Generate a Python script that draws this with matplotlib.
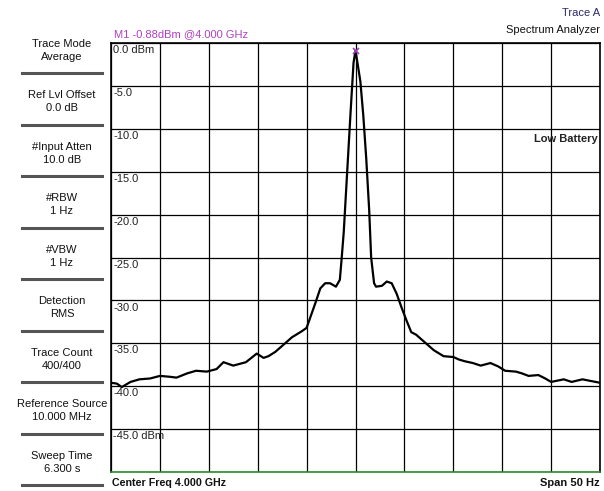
import matplotlib.pyplot as plt
from matplotlib.ticker import MultipleLocator

plt.rcParams['font.family'] = ['Liberation Sans', 'DejaVu Sans']

# trace: offset from 4.000 GHz (Hz) and level (dBm)
offset_hz = [-25.0, -24.4, -23.9, -23.0, -22.1, -21.0, -20.0, -19.0, -18.3, -17.2,
             -16.3, -15.2, -14.2, -13.5, -12.5, -11.2, -10.1, -9.4, -8.9, -8.2,
             -7.6, -6.5, -5.5, -5.0, -4.1, -3.6, -3.1, -2.6, -2.0, -1.6,
             -1.4, -1.2, -0.9, -0.5, -0.2, 0.0,
             0.2, 0.5, 0.8, 1.1, 1.4, 1.6, 1.9, 2.1, 2.7, 3.2, 3.7,
             4.2, 4.7, 5.2, 5.7, 6.2, 7.2, 8.0, 9.0, 10.0, 10.6, 11.2,
             12.0, 12.8, 13.8, 14.6, 15.3, 16.4, 17.0, 17.7, 18.7, 19.4, 20.0,
             21.3, 22.1, 23.2, 24.1, 25.0]
level_dbm = [-39.6, -39.7, -40.1, -39.5, -39.2, -39.1, -38.8, -38.9, -39.0, -38.5,
             -38.2, -38.3, -38.0, -37.2, -37.6, -37.2, -36.2, -36.7, -36.5, -36.0,
             -35.4, -34.3, -33.6, -33.2, -30.3, -28.6, -28.0, -28.0, -28.4, -27.6,
             -24.9, -22.0, -16.0, -8.0, -2.3, -0.88,
             -2.3, -4.5, -8.5, -13.5, -19.5, -25.0, -28.0, -28.4, -28.3, -27.8, -28.0,
             -29.2, -30.8, -32.3, -33.7, -34.0, -35.0, -35.8, -36.5, -36.6, -36.9, -37.1,
             -37.3, -37.6, -37.3, -37.7, -38.2, -38.3, -38.5, -38.8, -38.7, -39.1, -39.5,
             -39.2, -39.5, -39.2, -39.4, -39.6]

ref_level = 0.0
db_per_div = 5.0
span_hz = 50

side_labels = [("Trace Mode", "Average"), ("Ref Lvl Offset", "0.0 dB"),
               ("#Input Atten", "10.0 dB"), ("#RBW", "1 Hz"), ("#VBW", "1 Hz"),
               ("Detection", "RMS"), ("Trace Count", "400/400"),
               ("Reference Source", "10.000 MHz"), ("Sweep Time", "6.300 s")]

W, H = 604, 491
fs = 8
fig = plt.figure(figsize=(W / 100, H / 100), dpi=100)
fig.patch.set_facecolor('white')

# plot area in pixels
px_l, px_r, px_t, px_b = 111, 600, 43, 472
ax = fig.add_axes([px_l / W, 1 - px_b / H, (px_r - px_l) / W, (px_b - px_t) / H])

ax.plot(offset_hz, level_dbm, color='black', lw=1.6, zorder=3)
ax.plot([0], [-0.88], marker='x', color='#a040b0', ms=5, mew=1.2, zorder=4, clip_on=False)

ax.set_xlim(-span_hz / 2, span_hz / 2)
ax.set_ylim(ref_level - 10 * db_per_div, ref_level)
ax.xaxis.set_major_locator(MultipleLocator(span_hz / 10))
ax.yaxis.set_major_locator(MultipleLocator(db_per_div))
ax.grid(True, color='black', lw=0.9)
ax.tick_params(length=0, labelbottom=False, labelleft=False)
for side in ['left', 'top', 'right']:
    ax.spines[side].set_color('black')
    ax.spines[side].set_linewidth(1.2)
ax.spines['bottom'].set_color('#2e8b2e')
ax.spines['bottom'].set_linewidth(1.2)

# level labels inside the grid
for i in range(10):
    v = ref_level - i * db_per_div
    txt = f"{v:.1f}" if v != 0 else "0.0"
    if i == 0 or i == 9:
        txt += " dBm"
    ax.text(-span_hz / 2 + 0.25, v - 0.25, txt, fontsize=fs,
            ha='left', va='top', color='#222222')

ax.text(24.8, -11.2, "Low Battery", fontsize=fs, fontweight='bold', ha='right',
        va='center', color='#222222')

# header texts
fig.text(114 / W, 1 - 34 / H, "M1 -0.88dBm @4.000 GHz", fontsize=fs,
         color='#b040c0', ha='left', va='center')
fig.text(600 / W, 1 - 13 / H, "Trace A", fontsize=fs, color='#2a2a6a',
         ha='right', va='center')
fig.text(600 / W, 1 - 30 / H, "Spectrum Analyzer", fontsize=fs, color='#111111',
         ha='right', va='center')

# footer texts
fig.text(112 / W, 1 - 483 / H, "Center Freq 4.000 GHz", fontsize=7.7,
         fontweight='bold', ha='left', va='center', color='#111111')
fig.text(600 / W, 1 - 483 / H, "Span 50 Hz", fontsize=fs, fontweight='bold',
         ha='right', va='center', color='#111111')

# side panel with settings and separators
sep_y = [73 + 51.5 * k for k in range(9)]
for k, (a, b) in enumerate(side_labels):
    mid = (sep_y[k] - 51.5 + sep_y[k]) / 2 + 3
    fig.text(62 / W, 1 - (mid - 6.5) / H, a, fontsize=fs, ha='center', va='center',
             color='#111111')
    fig.text(62 / W, 1 - (mid + 6.5) / H, b, fontsize=fs, ha='center', va='center',
             color='#111111')
    fig.add_artist(plt.Line2D([22 / W, 102 / W], [1 - sep_y[k] / H] * 2,
                              color='#555555', lw=2.2))

fig.savefig('out.png', dpi=100, facecolor='white')
